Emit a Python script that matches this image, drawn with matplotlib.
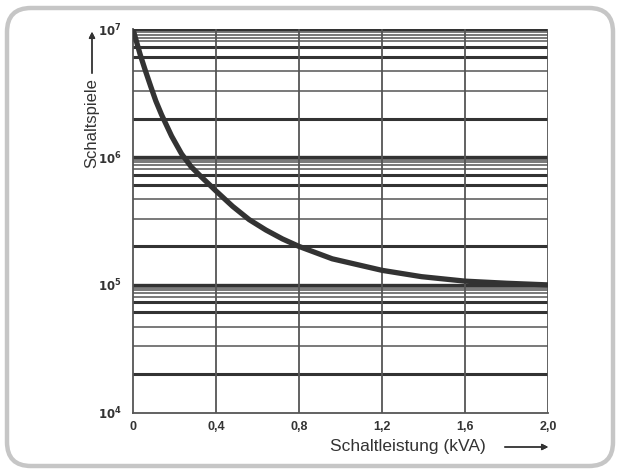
import matplotlib
matplotlib.use("Agg")
import matplotlib.pyplot as plt
from matplotlib.patches import FancyBboxPatch

plt.rcParams['font.family'] = ['Liberation Sans', 'DejaVu Sans']

# Kurve: Schaltleistung (kVA) -> Schaltspiele
leistung = [0, 0.035, 0.06, 0.085, 0.11, 0.138, 0.186, 0.234, 0.28, 0.32, 0.40,
            0.48, 0.56, 0.64, 0.72, 0.80, 0.96, 1.2, 1.39, 1.6, 1.8, 2.0]
spiele = [1e7, 6.31e6, 4.73e6, 3.59e6, 2.75e6, 2.14e6, 1.46e6, 1.06e6, 8.41e5, 7.24e5, 5.43e5,
          4.12e5, 3.24e5, 2.69e5, 2.29e5, 2.0e5, 1.60e5, 1.30e5, 1.16e5, 1.07e5, 1.03e5, 1.0e5]

x_ticks = [0, 0.4, 0.8, 1.2, 1.6, 2.0]
x_labels = ['0', '0,4', '0,8', '1,2', '1,6', '2,0']
dekaden = [1e4, 1e5, 1e6, 1e7]
y_labels = ['$\\mathbf{10^{4}}$', '$\\mathbf{10^{5}}$', '$\\mathbf{10^{6}}$', '$\\mathbf{10^{7}}$']
# Hilfslinien innerhalb einer Dekade (wie im Original gedruckt)
zwischen = [2, 3.3, 4.7, 6.1, 7.3, 8.1, 8.6, 9.1, 9.5]
dick = [True, False, False, True, True, False, False, False, False]

fig = plt.figure(figsize=(6.2, 4.7), dpi=100)

# Rahmen
bg = fig.add_axes([0, 0, 1, 1], zorder=0)
bg.set_xlim(0, 620)
bg.set_ylim(470, 0)
bg.axis('off')
bg.add_patch(FancyBboxPatch((7, 8), 606, 458, boxstyle="round,pad=0,rounding_size=24",
                            facecolor='white', edgecolor='#c6c6c6', linewidth=3.2))

ax = fig.add_axes([0.2145, 0.1219, 0.6695, 0.8158], zorder=1)
ax.set_facecolor('none')
ax.set_yscale('log')
ax.set_xlim(0, 2.0)
ax.set_ylim(1e4, 1e7)

# horizontale Linien
for d in dekaden[:-1]:
    for z, t in zip(zwischen, dick):
        ax.axhline(d * z, color='#333333' if t else '#555555',
                   lw=2.2 if t else 1.1, zorder=1)
for d in dekaden[1:]:
    ax.axhline(d, color='#333333', lw=2.4, zorder=1)
# vertikale Linien
for xt in x_ticks[1:]:
    ax.axvline(xt, color='#555555', lw=1.3, zorder=1)

ax.plot(leistung, spiele, color='#333333', lw=3.8, zorder=3,
        solid_capstyle='butt', solid_joinstyle='round')

for s in ['top', 'right']:
    ax.spines[s].set_visible(False)
for s in ['left', 'bottom']:
    ax.spines[s].set_color('#555555')
    ax.spines[s].set_linewidth(1.3)

ax.set_yticks(dekaden)
ax.set_yticklabels(y_labels)
ax.minorticks_off()
ax.set_xticks(x_ticks)
ax.set_xticklabels(x_labels, fontweight='bold')
ax.tick_params(length=0, labelsize=8.5, colors='#333333')
ax.tick_params(axis='x', labelsize=9, pad=6)
ax.tick_params(axis='y', pad=8)

# Achsenbeschriftungen mit Pfeilen
fig.text(330 / 620, 1 - 447 / 470, 'Schaltleistung (kVA)', ha='left', va='center',
         fontsize=12.5, color='#333333')
fig.add_artist(plt.annotate('', xy=(551 / 620, 1 - 447 / 470), xytext=(502 / 620, 1 - 447 / 470),
                            xycoords='figure fraction',
                            arrowprops=dict(arrowstyle='-|>', color='#333333', lw=1.0,
                                            mutation_scale=9)))
fig.text(92 / 620, 1 - 168 / 470, 'Schaltspiele', ha='center', va='bottom', rotation=90,
         fontsize=12, color='#333333')
fig.add_artist(plt.annotate('', xy=(92 / 620, 1 - 29 / 470), xytext=(92 / 620, 1 - 76 / 470),
                            xycoords='figure fraction',
                            arrowprops=dict(arrowstyle='-|>', color='#333333', lw=1.0,
                                            mutation_scale=9)))

fig.savefig('out.png', dpi=100)
